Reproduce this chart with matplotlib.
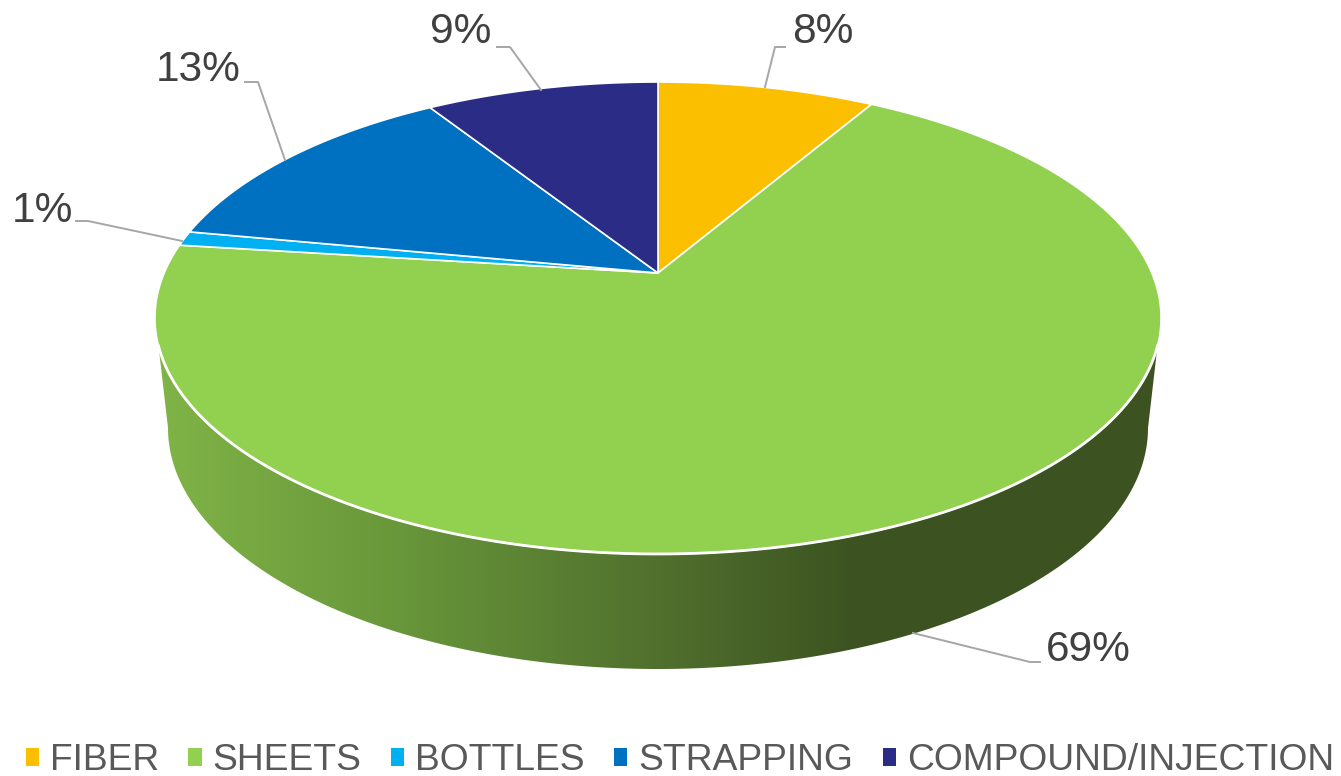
import numpy as np
import matplotlib
matplotlib.use("Agg")
import matplotlib.pyplot as plt
from matplotlib.colors import LinearSegmentedColormap
from matplotlib.patches import Patch, Polygon

plt.rcParams['font.family'] = ['Liberation Sans', 'DejaVu Sans']

categories = ["FIBER", "SHEETS", "BOTTLES", "STRAPPING", "COMPOUND/INJECTION"]
shares = [8.4, 68.6, 1.0, 13.0, 9.0]
pct_labels = ["8%", "69%", "1%", "13%", "9%"]
colors = ["#FCBF00", "#92D050", "#00B0F0", "#0070C0", "#2B2C86"]

# label position, then the leader line for it
label_pos = [(823, 32), (1088, 650), (42, 211), (198, 70), (461, 32)]
leaders = [
    [(785, 47), (775, 47), (765, 87)],
    [(1040, 662), (1030, 662), (913, 633)],
    [(76, 221), (88, 221), (182, 241)],
    [(245, 82), (258, 82), (285, 160)],
    [(497, 47), (510, 47), (541, 90)],
]

# disk is drawn in perspective, so the apex is not at the centre of the ellipse
CX, APEX_Y = 658, 273
PERSP, KY, RX = 0.1907, 227.4, 493.8


def project(theta):
    # theta clockwise from 12 o'clock, radians
    w = 1 + PERSP * np.cos(theta)
    return CX + RX * np.sin(theta) / w, APEX_Y - KY * np.cos(theta) / w


fig = plt.figure(figsize=(13.41, 7.76), dpi=100)
ax = fig.add_axes([0, 0, 1, 1])

# side wall: gradient clipped to the band between rim and lower ellipse
rim_t = np.linspace(np.pi * 0.43, np.pi * 1.57, 300)
rim_x, rim_y = project(rim_t)
keep = rim_y >= 345
rim_x, rim_y = rim_x[keep], rim_y[keep]
low_t = np.linspace(0, np.pi, 200)
low_x = CX + 490 * np.cos(low_t)
low_y = 428 + 241 * np.sin(low_t)
# rim runs right to left, lower ellipse comes back left to right
wall_xy = np.vstack([np.column_stack([rim_x, rim_y]),
                     np.column_stack([low_x[::-1], low_y[::-1]])])
wall_cmap = LinearSegmentedColormap.from_list("wall", [
    (0.0, "#80B447"), (0.244, "#68963A"), (0.393, "#5A8033"),
    (0.54, "#4D6A2B"), (0.69, "#3C5421"), (1.0, "#3C5221"),
])
im = ax.imshow(np.linspace(0, 1, 512).reshape(1, -1), cmap=wall_cmap, aspect="auto",
               extent=(155, 1161, 680, 330), zorder=1)
wall = Polygon(wall_xy, closed=True, fc="none", ec="none")
ax.add_patch(wall)
im.set_clip_path(wall)
ax.set_xlim(0, 1341)
ax.set_ylim(776, 0)
ax.axis("off")

# top face wedges
edges = np.radians(np.cumsum([0] + shares) / sum(shares) * 360)
for i in range(len(shares)):
    t = np.linspace(edges[i], edges[i + 1], max(int(shares[i] * 8), 6))
    x, y = project(t)
    ax.fill(np.r_[CX, x], np.r_[APEX_Y, y], fc=colors[i], ec="white", lw=1.2,
            joinstyle="round", zorder=2)

# white rim along the front, over the wall
ax.plot(rim_x, rim_y, color="white", lw=2, zorder=3)

for i, lab in enumerate(pct_labels):
    ax.text(label_pos[i][0], label_pos[i][1], lab, fontsize=30.5, color="#404040",
            ha="center", va="center", zorder=5)
    pts = np.array(leaders[i])
    ax.plot(pts[:, 0], pts[:, 1], color="#A6A6A6", lw=1.4, zorder=4)

handles = [Patch(fc=c, ec="none") for c in colors]
leg = ax.legend(handles, categories, ncol=5, loc="lower center",
                bbox_to_anchor=(0.507, -0.003), frameon=False, fontsize=26.8,
                labelcolor="#595959", handlelength=0.36, handleheight=0.36,
                handletextpad=0.3, columnspacing=0.78, borderpad=0, borderaxespad=0)

fig.savefig("out.png", dpi=100)
